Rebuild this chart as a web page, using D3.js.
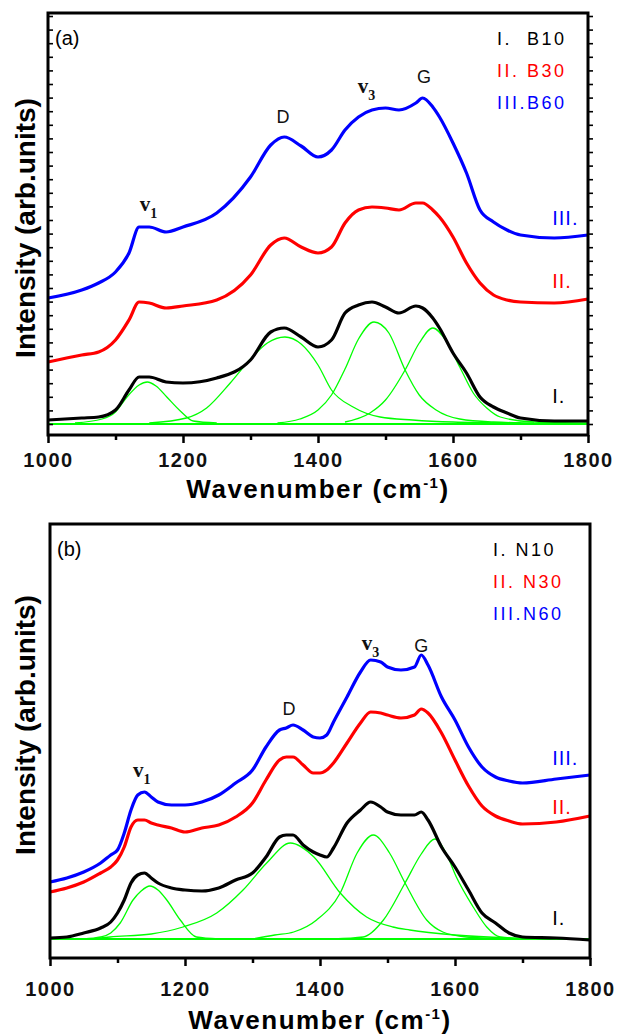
<!doctype html>
<html>
<head>
<script src="https://cdn.jsdelivr.net/npm/d3@7"></script>
<style>
  body { margin: 0; background: #fff; }
  svg { font-family: "Liberation Sans", Arial, sans-serif; }
  .curve { fill: none; stroke-width: 3.2; stroke-linejoin: round; }
  .fit { fill: none; stroke: #00ff00; stroke-width: 1.3; }
  .frame { fill: none; stroke: #000; stroke-width: 3; }
  .xaxis line { stroke: #000; stroke-width: 2.5; }
  .yaxis line { stroke: #000; stroke-width: 1.6; }
  .xaxis text { font-size: 20px; font-weight: bold; letter-spacing: 1.5px; fill: #111; }
  .legend text { font-size: 18px; letter-spacing: 2.5px; white-space: pre; }
  .peak { font-family: "Liberation Serif", serif; font-weight: bold; font-size: 21px; fill: #111; }
  .peakS { font-family: "Liberation Sans", Arial, sans-serif; font-size: 18px; fill: #111; }
  .roman { font-size: 20px; letter-spacing: 1px; }
</style>
</head>
<body>
<svg width="620" height="1034"></svg>
<script>
// ---- panel (a): B samples ----
var wavesA = [1000,1050,1075,1100,1120,1135,1150,1175,1200,1250,1300,1330,1350,1375,1400,1420,1440,1460,1480,1500,1520,1545,1555,1570,1580,1600,1620,1640,1660,1680,1700,1750,1800];
var b10 = [15,17,18,25,45,58,58,53,52,57,75,103,107,98,88,95,122,130,133,128,122,129,127,117,107,82,62,38,28,22,17,14,14];
var b30 = [73,80,83,95,115,133,132,127,129,135,160,190,197,188,182,188,212,225,228,227,225,232,232,225,218,198,172,152,140,135,133,132,136];
var b60 = [137,145,152,163,182,208,208,203,208,222,258,290,298,289,278,285,305,318,325,327,325,332,337,328,318,292,262,225,213,205,200,197,200];

var fitA_v1 = [[1040,12],[1080,16],[1100,23],[1117,38],[1135,50],[1147,53],[1160,49],[1176,38],[1196,24],[1215,14],[1250,12]];
var fitA_D  = [[1150,12],[1205,17],[1235,27],[1270,52],[1300,76],[1325,92],[1351,98],[1375,91],[1400,70],[1420,45],[1452,28],[1492,18],[1540,15],[1600,13],[1700,12]];
var fitA_v3 = [[1340,12],[1373,16],[1400,25],[1420,40],[1440,66],[1460,96],[1483,113],[1505,102],[1529,65],[1550,40],[1575,25],[1610,16],[1660,13],[1720,12]];
var fitA_G  = [[1440,13],[1477,22],[1500,35],[1529,65],[1550,92],[1570,107],[1590,94],[1610,68],[1630,42],[1650,27],[1670,18],[1720,13],[1800,12]];

// ---- panel (b): N samples ----
var wavesB = [1000,1025,1050,1075,1090,1100,1110,1120,1130,1140,1150,1160,1180,1200,1225,1250,1275,1300,1320,1340,1350,1360,1375,1390,1400,1410,1420,1440,1460,1475,1490,1500,1520,1540,1550,1560,1580,1600,1620,1640,1660,1680,1700,1750,1800];
var n10 = [20,21,25,30,36,45,58,75,83,85,80,75,70,68,67,70,78,85,101,121,123,123,113,106,103,101,110,135,148,156,151,146,143,143,146,138,111,91,68,45,35,25,21,20,18];
var n30 = [66,70,76,85,91,98,111,131,138,138,135,133,130,126,130,133,141,155,178,198,201,201,193,185,185,188,195,215,235,246,245,243,240,243,249,245,225,198,172,152,142,137,134,136,142];
var n60 = [76,80,86,95,103,108,125,148,163,166,161,156,153,153,156,163,175,188,211,228,230,233,228,221,220,223,236,261,286,298,296,291,288,291,303,293,261,238,211,191,181,177,175,179,183];

var fitB_v1 = [[1050,19],[1075,21],[1090,25],[1104,35],[1123,58],[1135,67],[1148,72],[1160,68],[1173,58],[1193,38],[1217,21],[1250,19]];
var fitB_D  = [[1060,19],[1089,21],[1150,24],[1197,31],[1247,45],[1286,68],[1321,95],[1356,115],[1391,101],[1430,65],[1469,41],[1508,31],[1533,28],[1600,23],[1680,20],[1750,19]];
var fitB_v3 = [[1300,19],[1333,23],[1361,26],[1395,38],[1430,65],[1455,105],[1479,123],[1503,105],[1526,75],[1558,38],[1582,26],[1617,21],[1680,19]];
var fitB_G  = [[1420,19],[1464,21],[1494,38],[1526,75],[1550,104],[1570,119],[1588,103],[1602,81],[1627,51],[1647,31],[1667,21],[1720,19]];

var majorTicks = [1000,1200,1400,1600,1800];
var minorTicks = [1100,1300,1500,1700];
var colors = ["#000000", "#ff0000", "#0000ff"];

var svg = d3.select("svg");

var panels = [
  { tag: "(a)", left: 48, right: 588, top: 13, bottom: 435, yMax: 422,
    waves: wavesA, series: [b10, b30, b60], fits: [fitA_v1, fitA_D, fitA_v3, fitA_G], base: 11,
    names: ["I.  B10", "II. B30", "III.B60"], legendX: 497, yTicks: true,
    tickLabelDy: 33, titleY: 498, yTitleY: 228,
    romans: [[1747, 32], [1747, 147], [1747, 210]],
    peaks: { v1: [1136, 224], D: [1348, 312], v3: [1459, 342], G: [1557, 352] } },
  { tag: "(b)", left: 50, right: 590, top: 524, bottom: 958, yMax: 434,
    waves: wavesB, series: [n10, n30, n60], fits: [fitB_v1, fitB_D, fitB_v3, fitB_G], base: 19,
    names: ["I. N10", "II. N30", "III.N60"], legendX: 493, yTicks: false,
    tickLabelDy: 39, titleY: 1029, yTitleY: 725,
    romans: [[1744, 33], [1744, 144], [1744, 193]],
    peaks: { v1: [1123, 181], D: [1354, 243], v3: [1462, 308], G: [1550, 306] } }
];

panels.forEach(drawPanel);

function drawPanel(p) {
  var x = d3.scaleLinear().domain([1000, 1800]).range([p.left, p.right]);
  var y = d3.scaleLinear().domain([0, p.yMax]).range([p.bottom, p.top]);
  var g = svg.append("g");

  var line = d3.line().x(d => x(d[0])).y(d => y(d[1]));
  var smooth = d3.line().x(d => x(d[0])).y(d => y(d[1])).curve(d3.curveMonotoneX);

  // fitted components
  g.append("path").attr("class", "fit").style("stroke-width", 2.2)
    .attr("d", line([[1000, p.base], [1800, p.base]]));
  p.fits.forEach(f => {
    g.append("path").attr("class", "fit").attr("d", smooth(f));
  });

  // measured spectra
  p.series.forEach((s, i) => {
    var pts = p.waves.map((w, j) => [w, s[j]]);
    g.append("path").attr("class", "curve")
      .style("stroke", colors[i])
      .attr("d", smooth(pts));
  });

  // axes
  var xMajor = d3.axisBottom(x).tickValues(majorTicks).tickSize(8).tickPadding(p.tickLabelDy - 23).tickFormat(d3.format("d"));
  var xMinor = d3.axisBottom(x).tickValues(minorTicks).tickSize(5).tickFormat("");
  [xMajor, xMinor].forEach(ax => {
    var a = g.append("g").attr("class", "xaxis")
      .attr("transform", `translate(0,${p.bottom})`).call(ax);
    a.select(".domain").remove();
  });

  if (p.yTicks) {
    var yt = d3.range(11, p.yMax, 13.6);
    [p.left, p.right].forEach(px => {
      var a = g.append("g").attr("class", "yaxis")
        .attr("transform", `translate(${px},0)`)
        .call(d3.axisRight(y).tickValues(yt).tickSize(5).tickFormat(""));
      a.select(".domain").remove();
    });
  }

  g.append("rect").attr("class", "frame")
    .attr("x", p.left).attr("y", p.top)
    .attr("width", p.right - p.left).attr("height", p.bottom - p.top);

  // axis titles
  var xt = g.append("text")
    .attr("x", (p.left + p.right) / 2).attr("y", p.titleY)
    .attr("text-anchor", "middle")
    .style("font-size", "26px").style("font-weight", "bold").style("letter-spacing", "1.5px")
    .text("Wavenumber (cm");
  xt.append("tspan").attr("dy", -10).style("font-size", "15px").text("-1");
  xt.append("tspan").attr("dy", 10).text(")");

  g.append("text")
    .attr("transform", `translate(35,${p.yTitleY}) rotate(-90)`)
    .attr("text-anchor", "middle")
    .style("font-size", "28px").style("font-weight", "bold")
    .text("Intensity (arb.units)");

  // panel tag
  g.append("text").attr("x", p.left + 7).attr("y", p.top + 32)
    .style("font-size", "20px").text(p.tag);

  // legend
  var lg = g.append("g").attr("class", "legend");
  p.names.forEach((n, i) => {
    lg.append("text").attr("x", p.legendX).attr("y", p.top + 32 + i * 32)
      .style("fill", colors[i]).text(n);
  });

  // curve labels
  ["I.", "II.", "III."].forEach((r, i) => {
    g.append("text").attr("class", "roman")
      .attr("x", x(p.romans[i][0])).attr("y", y(p.romans[i][1]))
      .style("fill", colors[i]).text(r);
  });

  // peak labels
  [["v1", "1"], ["v3", "3"]].forEach(([k, sub]) => {
    var t = g.append("text").attr("class", "peak")
      .attr("x", x(p.peaks[k][0])).attr("y", y(p.peaks[k][1])).text("v");
    t.append("tspan").attr("dy", 7).style("font-size", "14px").text(sub);
  });
  ["D", "G"].forEach(k => {
    g.append("text").attr("class", "peakS").attr("text-anchor", "middle")
      .attr("x", x(p.peaks[k][0])).attr("y", y(p.peaks[k][1])).text(k);
  });
}
</script>
</body>
</html>
